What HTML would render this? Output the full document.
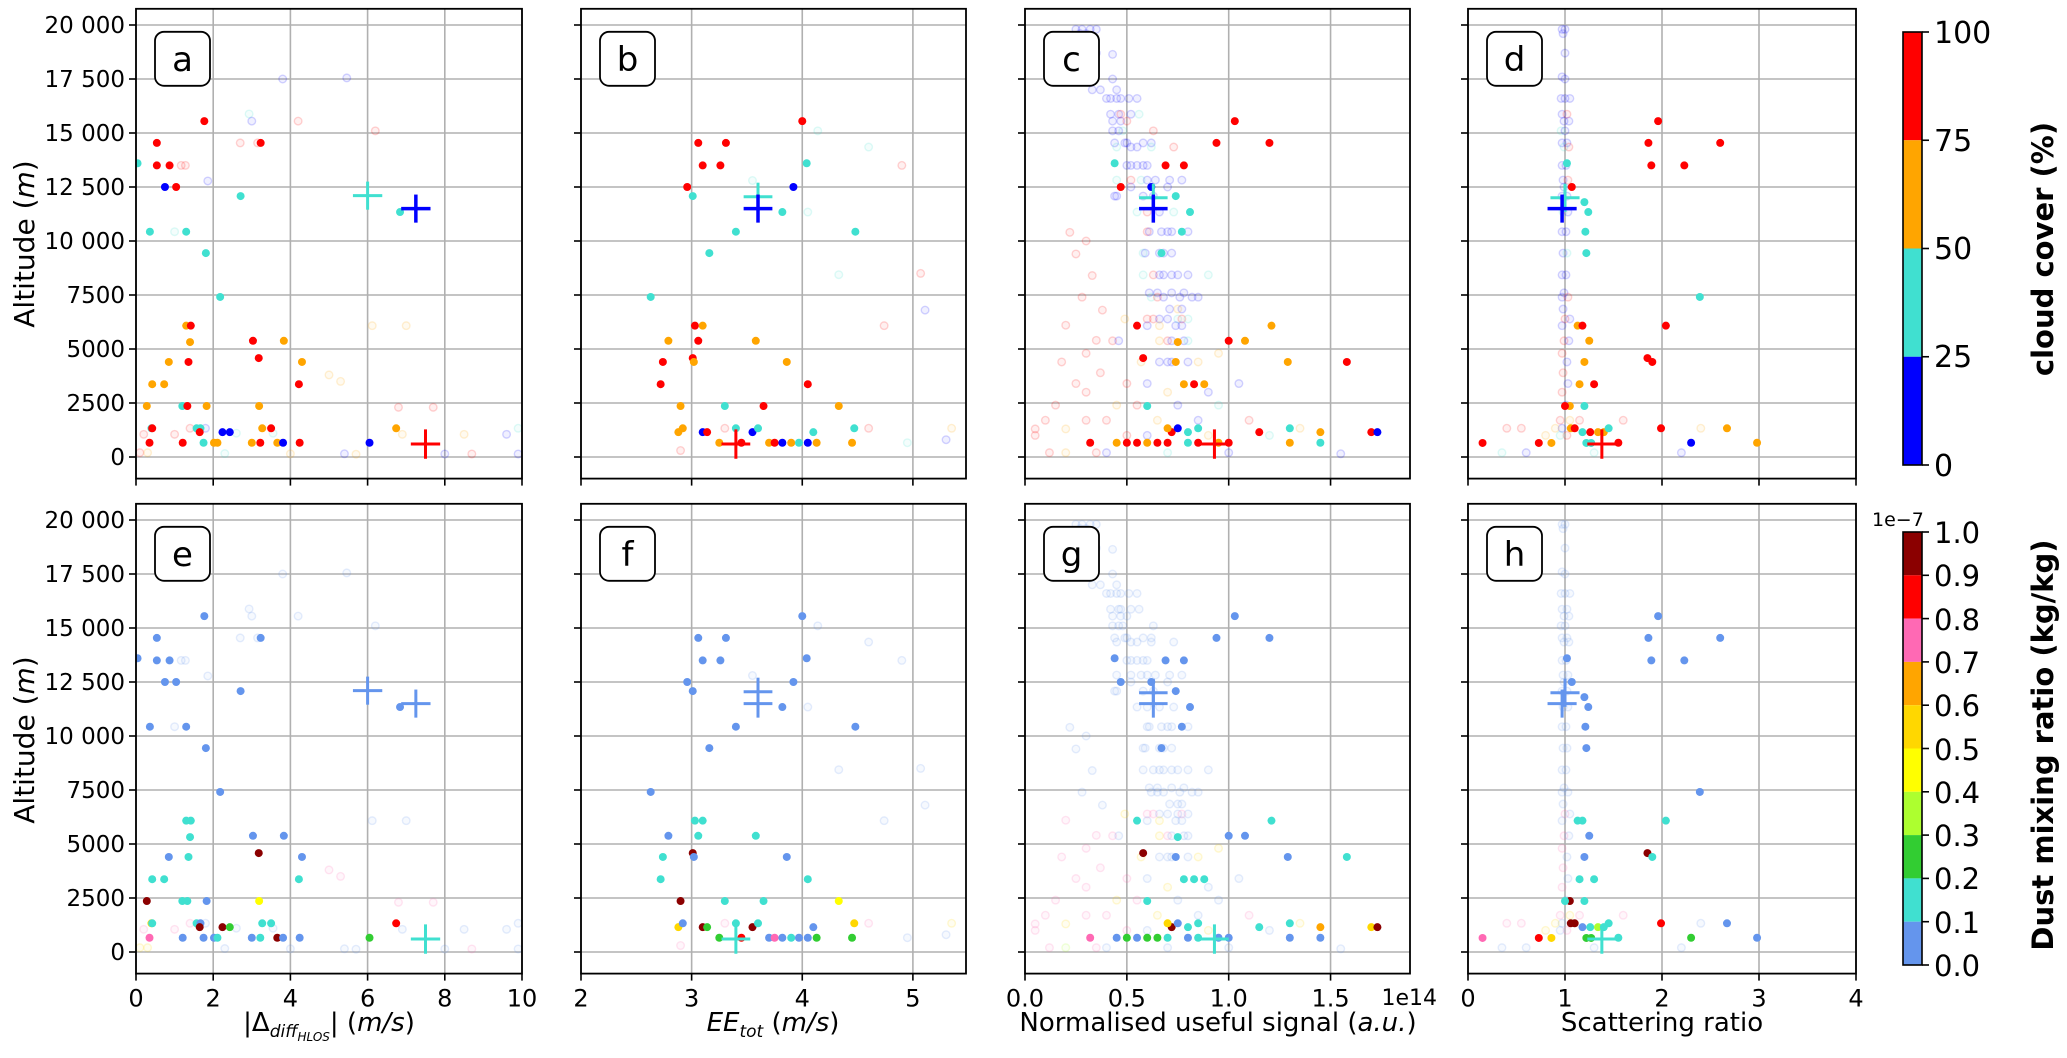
<!DOCTYPE html>
<html><head><meta charset="utf-8"><style>
html,body{margin:0;padding:0;background:#fff;}
svg text{font-family:"DejaVu Sans","Liberation Sans",sans-serif;}
</style></head>
<body>
<svg id="fig" xmlns="http://www.w3.org/2000/svg" width="2067" height="1053" viewBox="0 0 2067 1053"></svg>
<script>
// ---- data ----
const ccColors = ['#0000ff','#40e0d0','#ffa500','#ff0000'];
const dustColors = ['#6495ed','#40e0d0','#32cd32','#adff2f','#ffff00','#ffd700','#ffa500','#ff69b4','#ff0000','#8b0000'];
const yTicks = [0,2500,5000,7500,10000,12500,15000,17500,20000];
const yTickLabels = ['0','2500','5000','7500','10 000','12 500','15 000','17 500','20 000'];
const xTicksA = [0,2,4,6,8,10];
const xTicksB = [2,3,4,5];
const xTicksC = [0,0.5,1.0,1.5];
const xTickLabelsC = ['0.0','0.5','1.0','1.5'];
const xTicksD = [0,1,2,3,4];
const ccTicks = [0,25,50,75,100];
const dustTicks = ['0.0','0.1','0.2','0.3','0.4','0.5','0.6','0.7','0.8','0.9','1.0'];
// points: [x, altitude, cloud class, dust class]
const pointsA = [[1.77,15550,3,0],[0.54,14540,3,0],[3.23,14540,3,0],[0.54,13500,3,0],[0.87,13500,3,0],[0.04,13600,1,0],[0.75,12500,0,0],[1.04,12500,3,0],[2.71,12080,1,0],[6.84,11340,1,0],[0.36,10430,1,0],[1.30,10430,1,0],[1.81,9440,1,0],[2.18,7410,1,0],[1.30,6080,2,1],[1.42,6080,3,1],[1.40,5320,2,1],[3.03,5380,3,0],[3.83,5380,2,0],[0.85,4400,2,0],[1.36,4400,3,1],[3.18,4580,3,9],[4.30,4400,2,0],[0.42,3370,2,1],[0.73,3370,2,1],[4.22,3370,3,1],[0.28,2360,2,9],[1.20,2360,1,1],[1.33,2360,3,1],[1.83,2360,2,0],[3.19,2360,2,4],[0.40,1330,1,5],[0.42,1330,3,1],[1.57,1330,1,1],[1.67,1330,1,0],[1.65,1150,3,9],[2.24,1150,0,9],[2.43,1150,0,2],[3.27,1330,2,1],[3.50,1330,3,1],[6.74,1330,2,8],[0.35,660,3,7],[1.21,660,3,0],[1.75,660,1,0],[2.02,660,2,0],[2.11,660,2,1],[3.00,660,2,0],[3.22,660,3,1],[3.66,660,2,9],[3.81,660,0,0],[4.24,660,3,0],[6.05,660,0,2]];
const fadedA = [[3.80,17500,0,0],[5.46,17550,0,0],[2.93,15880,1,0],[3.00,15550,0,0],[4.20,15550,3,0],[6.20,15100,3,0],[2.70,14540,3,0],[3.15,14540,3,0],[1.17,13500,3,0],[1.28,13500,3,0],[1.86,12780,0,0],[1.00,10430,1,0],[6.12,6080,2,0],[7.00,6080,2,0],[5.00,3800,2,7],[5.30,3500,2,7],[6.80,2300,3,7],[7.70,2300,3,7],[0.20,1050,3,7],[1.00,1050,3,7],[1.40,1330,3,7],[1.80,1330,0,0],[2.60,1100,1,0],[3.55,1100,1,0],[6.90,1050,2,0],[8.50,1050,2,0],[9.60,1050,0,0],[9.90,1330,1,0],[5.40,150,0,0],[5.70,130,2,0],[8.70,140,3,7],[9.90,140,0,0],[8.00,140,0,0],[0.10,200,3,5],[0.30,200,2,5],[2.30,160,1,0],[4.00,150,2,0]];
const pointsB = [[3.06,14540,3,0],[3.31,14540,3,0],[3.10,13500,3,0],[3.26,13500,3,0],[2.96,12500,3,0],[3.01,12080,1,0],[3.40,10430,1,0],[3.16,9440,1,0],[2.63,7410,1,0],[3.03,6080,3,1],[3.10,6080,2,1],[2.79,5380,2,0],[3.06,5380,3,1],[2.74,4400,3,1],[3.01,4580,3,9],[3.02,4400,2,0],[4.00,15550,3,0],[4.04,13600,1,0],[3.92,12500,0,0],[3.82,11340,1,0],[4.48,10430,1,0],[3.58,5380,2,1],[3.86,4400,2,0],[4.05,3370,3,1],[2.72,3370,3,1],[2.90,2360,2,9],[3.30,2360,1,1],[3.65,2360,3,1],[4.33,2360,2,4],[4.47,1330,1,5],[2.88,1150,2,5],[2.92,1330,2,0],[3.10,1150,0,9],[3.14,1150,3,2],[3.40,1330,1,1],[3.55,1150,0,9],[3.60,1330,1,1],[3.70,660,2,0],[3.75,660,3,7],[3.82,660,0,0],[3.90,660,2,1],[3.97,660,1,0],[4.05,660,0,0],[4.10,1150,1,0],[4.13,660,2,2],[4.45,660,2,2],[3.25,660,2,2],[3.45,660,3,8]];
const fadedB = [[4.14,15100,1,0],[4.60,14350,1,0],[4.90,13500,3,0],[4.05,11340,1,0],[4.33,8440,1,0],[5.07,8500,3,0],[5.11,6800,0,0],[4.74,6080,3,0],[5.35,1330,2,5],[5.30,800,0,0],[2.90,300,3,7],[3.55,12800,1,0],[4.60,1330,3,7],[3.30,1330,3,7],[4.95,660,1,0]];
const pointsC = [[1.03,15550,3,0],[0.94,14540,3,0],[1.20,14540,3,0],[0.69,13500,3,0],[0.78,13500,3,0],[0.44,13600,1,0],[0.47,12500,3,0],[0.62,12500,0,0],[0.74,12080,1,0],[0.81,11340,1,0],[0.77,10430,1,0],[0.67,9440,1,0],[0.55,6080,3,1],[1.21,6080,2,1],[1.00,5380,3,0],[1.08,5380,2,0],[0.75,5320,2,1],[0.58,4580,3,9],[0.74,4400,2,0],[1.29,4400,2,0],[1.58,4400,3,1],[0.78,3370,2,1],[0.83,3370,3,1],[0.88,3370,2,1],[0.60,2360,1,1],[0.72,1150,3,9],[0.75,1330,0,0],[0.80,1150,1,1],[0.85,1330,1,1],[0.70,1330,2,5],[1.15,1150,3,1],[1.30,1330,1,1],[1.45,1150,2,6],[1.70,1150,3,5],[1.73,1150,0,9],[0.32,660,3,7],[0.45,660,2,0],[0.50,660,3,2],[0.55,660,3,0],[0.60,660,2,2],[0.65,660,3,2],[0.70,660,3,1],[0.80,660,1,0],[0.85,660,3,1],[0.95,660,2,0],[1.00,660,3,0],[1.30,660,2,0],[1.45,660,1,0]];
const fadedC = [[0.25,19800,0,0],[0.28,19800,0,0],[0.32,19800,0,0],[0.35,19800,0,0],[0.27,19600,0,0],[0.30,19600,0,0],[0.30,18700,0,0],[0.35,18700,0,0],[0.43,18640,0,0],[0.33,17600,0,0],[0.43,17500,0,0],[0.33,17000,0,0],[0.37,17000,0,0],[0.45,17000,0,0],[0.40,16600,0,0],[0.42,16600,0,0],[0.45,16600,0,0],[0.47,16600,0,0],[0.51,16600,0,0],[0.55,16600,0,0],[0.42,15870,0,0],[0.46,15870,0,0],[0.52,15870,0,0],[0.56,15870,1,0],[0.47,15870,3,0],[0.43,15550,0,0],[0.47,15550,0,0],[0.50,15550,3,0],[0.43,15100,0,0],[0.46,15100,0,0],[0.48,15100,1,0],[0.63,15100,3,0],[0.44,14540,0,0],[0.49,14540,0,0],[0.50,14540,0,0],[0.58,14540,0,0],[0.62,14540,0,0],[0.45,14350,1,0],[0.52,14350,0,0],[0.55,14350,0,0],[0.62,14350,1,0],[0.73,14350,3,0],[0.50,13500,0,0],[0.52,13500,0,0],[0.55,13500,0,0],[0.58,13500,0,0],[0.60,13500,0,0],[0.45,12820,1,0],[0.52,12820,3,0],[0.57,12820,1,0],[0.60,12820,0,0],[0.64,12820,0,0],[0.71,12820,0,0],[0.77,12820,0,0],[0.52,12500,0,0],[0.70,12500,0,0],[0.44,12080,0,0],[0.45,12080,0,0],[0.58,12080,0,0],[0.63,12080,0,0],[0.55,11340,1,0],[0.60,11340,3,0],[0.66,11340,0,0],[0.73,11340,1,0],[0.60,10430,3,0],[0.61,10430,0,0],[0.67,10430,0,0],[0.70,10430,0,0],[0.72,10430,0,0],[0.80,10430,0,0],[0.58,9440,1,0],[0.59,9440,0,0],[0.66,9440,0,0],[0.68,9440,0,0],[0.72,9440,0,0],[0.58,8430,1,0],[0.63,8430,3,0],[0.66,8430,0,0],[0.68,8430,0,0],[0.72,8430,0,0],[0.75,8430,0,0],[0.80,8430,0,0],[0.90,8430,1,0],[0.61,7600,0,0],[0.65,7600,0,0],[0.72,7600,0,0],[0.78,7600,0,0],[0.62,7400,1,0],[0.65,7400,3,0],[0.68,7400,0,0],[0.76,7400,0,0],[0.82,7400,0,0],[0.85,7400,0,0],[0.71,6850,0,0],[0.75,6850,2,0],[0.77,6850,0,0],[0.49,6390,2,5],[0.60,6390,3,7],[0.63,6390,3,7],[0.66,6390,0,0],[0.70,6390,0,0],[0.75,6390,1,0],[0.77,6390,3,7],[0.80,6390,1,0],[0.60,6080,0,0],[0.66,6080,2,5],[0.74,6080,0,0],[0.77,6080,0,0],[0.43,5380,3,7],[0.46,5380,0,0],[0.66,5380,2,5],[0.70,5380,3,7],[0.72,5380,0,0],[0.78,5380,0,0],[0.80,5380,1,0],[0.57,4400,2,5],[0.66,4400,0,0],[0.70,4400,0,0],[0.72,4400,0,0],[0.80,4400,0,0],[0.85,4400,2,5],[0.22,10400,3,0],[0.30,10000,3,0],[0.25,9400,3,0],[0.33,8400,3,0],[0.28,7400,3,0],[0.38,6800,3,0],[0.20,6100,3,7],[0.35,5400,3,7],[0.30,4800,3,7],[0.18,4400,3,7],[0.37,3900,3,7],[0.25,3400,3,7],[0.30,3000,3,7],[0.15,2400,3,7],[0.10,1700,3,7],[0.30,1700,3,7],[0.20,1300,2,5],[0.05,1000,3,7],[0.12,200,3,7],[0.20,200,2,3],[0.35,200,3,7],[0.05,1300,3,7],[0.50,3400,3,7],[0.60,3400,0,0],[0.70,3000,2,5],[0.90,3000,0,0],[0.45,2400,2,5],[0.55,2400,3,7],[0.75,2400,0,0],[0.95,2400,1,0],[0.40,1700,3,7],[0.65,1700,2,5],[0.85,1700,0,0],[1.10,1700,3,7],[0.50,1000,3,7],[0.60,1000,0,0],[0.90,1000,2,5],[1.20,1000,1,0],[0.40,200,0,0],[0.70,200,1,0],[1.00,200,0,0],[1.55,150,0,0],[1.35,1330,2,5],[0.95,4800,2,5],[1.05,3400,0,0]];
const pointsD = [[1.96,15550,3,0],[1.86,14540,3,0],[2.60,14540,3,0],[1.89,13500,3,0],[2.23,13500,3,0],[1.02,13600,1,0],[1.07,12500,3,0],[1.20,11800,1,0],[1.24,11340,1,0],[1.21,10430,1,0],[1.22,9440,1,0],[2.39,7410,1,0],[1.13,6080,2,1],[1.18,6080,3,1],[2.04,6080,3,1],[1.25,5380,2,0],[1.85,4580,3,9],[1.90,4400,3,1],[1.20,4400,2,0],[1.15,3370,2,1],[1.30,3370,3,1],[1.05,2360,2,9],[1.20,2360,1,1],[1.00,2360,3,1],[0.15,650,3,7],[0.73,650,3,8],[0.86,650,2,5],[1.22,650,1,2],[1.27,650,1,2],[1.18,1150,1,0],[1.26,1150,3,1],[1.34,1150,2,3],[1.06,1330,2,9],[1.10,1330,3,9],[1.40,1150,2,1],[1.99,1330,3,8],[2.30,660,0,2],[2.67,1330,2,0],[2.98,660,2,0],[1.55,660,3,1],[1.45,1330,1,1]];
const fadedD = [[0.97,19800,0,0],[1.00,19800,0,0],[0.98,19600,0,0],[1.00,18700,0,0],[0.97,17600,0,0],[1.00,17500,0,0],[0.96,16600,0,0],[1.00,16600,0,0],[1.05,16600,0,0],[0.97,15870,0,0],[1.02,15870,3,0],[0.99,15550,0,0],[1.04,15550,0,0],[0.96,15100,1,0],[1.00,15100,0,0],[0.97,14540,0,0],[1.02,14540,0,0],[0.99,14350,1,0],[1.04,14350,3,0],[0.97,13500,0,0],[1.01,13500,0,0],[0.98,12820,0,0],[1.03,12820,3,0],[0.99,12500,0,0],[0.97,12080,0,0],[1.02,12080,0,0],[0.98,11340,1,0],[1.03,11340,0,0],[0.97,10430,0,0],[1.01,10430,0,0],[0.98,9440,0,0],[1.02,9440,1,0],[0.97,8430,0,0],[1.01,8430,0,0],[0.99,7600,0,0],[0.97,7400,0,0],[1.03,7400,3,0],[0.98,6850,0,0],[1.00,6390,3,7],[1.05,6390,0,0],[0.97,6080,0,0],[0.99,5380,3,7],[1.04,5380,0,0],[0.97,4800,3,7],[1.02,4400,0,0],[0.98,3900,3,7],[1.03,3400,0,0],[0.97,3000,3,7],[1.01,2400,0,0],[0.95,1700,3,7],[1.05,1700,2,5],[0.97,1330,0,0],[1.02,1000,3,7],[0.40,1330,3,7],[0.55,1330,3,7],[0.60,200,0,0],[0.35,200,1,0],[0.90,1330,2,5],[1.60,1700,3,7],[0.80,1000,2,5],[1.30,200,1,0],[2.20,200,0,0],[2.40,1330,2,0],[0.95,1000,1,0],[1.15,1700,3,7]];
// crosses: [x, altitude, xerr, yerr, colour index]
const crossTopA = [[6.0,12100,0.38,650,1],[7.25,11500,0.38,650,0],[7.5,600,0.38,680,3]];
const crossTopB = [[3.6,12050,0.13,650,1],[3.6,11500,0.13,650,0],[3.4,600,0.13,680,3]];
const crossTopC = [[0.63,12000,0.07,650,1],[0.63,11500,0.07,650,0],[0.93,600,0.07,680,3]];
const crossTopD = [[1.0,12000,0.15,650,1],[0.97,11500,0.15,650,0],[1.38,600,0.15,680,3]];
const crossBotA = [[6.0,12100,0.38,650,0],[7.25,11500,0.38,650,0],[7.5,600,0.38,680,1]];
const crossBotB = [[3.6,12050,0.13,650,0],[3.6,11500,0.13,650,0],[3.4,600,0.13,680,1]];
const crossBotC = [[0.63,12000,0.07,650,0],[0.63,11500,0.07,650,0],[0.93,600,0.07,680,1]];
const crossBotD = [[1.0,12000,0.15,650,0],[0.97,11500,0.15,650,0],[1.38,600,0.15,680,1]];

// ---- layout ----
const svg = document.getElementById('fig');
const NS = 'http://www.w3.org/2000/svg';
function mk(tag, attrs, parent){const e=document.createElementNS(NS,tag);for(const k in attrs)e.setAttribute(k,attrs[k]);(parent||svg).appendChild(e);return e;}
const colX = [[136,522],[581,966],[1025,1410],[1468,1856]];
const xLims = [[0,10],[2,5.48],[0,1.89],[0,4]];
const rowZero = [457,952];
const YS = 0.0216;
const rowTop = r => rowZero[r]-20750*YS;
const rowBot = r => rowZero[r]+1000*YS;
const panelData = [[pointsA,fadedA],[pointsB,fadedB],[pointsC,fadedC],[pointsD,fadedD]];
const crossTop = [crossTopA,crossTopB,crossTopC,crossTopD];
const crossBot = [crossBotA,crossBotB,crossBotC,crossBotD];
const xTickSets = [xTicksA,xTicksB,xTicksC,xTicksD];
const xTickLabelSets = [xTicksA.map(String),xTicksB.map(String),xTickLabelsC,xTicksD.map(String)];
const letters = [['a','b','c','d'],['e','f','g','h']];

for(let r=0;r<2;r++){
  for(let c=0;c<4;c++){
    const [x0,x1]=colX[c], [l0,l1]=xLims[c];
    const sx = v => x0+(v-l0)/(l1-l0)*(x1-x0);
    const sy = a => rowZero[r]-a*YS;
    const g = mk('g',{});
    
    
    xTickSets[c].forEach((t,i)=>{
      const gl=mk('line',{x1:sx(t),x2:sx(t),y1:rowTop(r),y2:rowBot(r),stroke:'#b0b0b0','stroke-width':1.6},g);
      
      
      const tk=mk('line',{x1:sx(t),x2:sx(t),y1:rowBot(r),y2:rowBot(r)+7,stroke:'#000','stroke-width':1.6},g);
      
      
      if(r===1){
        const tl=mk('text',{x:sx(t),y:rowBot(r)+33,'text-anchor':'middle','font-size':24},g);
        tl.textContent=xTickLabelSets[c][i];
        
        
      }
    });
    yTicks.forEach((t,i)=>{
      const gl=mk('line',{x1:x0,x2:x1,y1:sy(t),y2:sy(t),stroke:'#b0b0b0','stroke-width':1.6},g);
      
      
      const tk=mk('line',{x1:x0-7,x2:x0,y1:sy(t),y2:sy(t),stroke:'#000','stroke-width':1.6},g);
      
      
      if(c===0){
        const tl=mk('text',{x:x0-11,y:sy(t)+8,'text-anchor':'end','font-size':23},g);
        tl.textContent=yTickLabels[i];
        
        
      }
    });
    const clip = mk('clipPath',{id:'clip'+r+c},g);
    mk('rect',{x:x0,y:rowTop(r),width:x1-x0,height:rowBot(r)-rowTop(r)},clip);
    const pg = mk('g',{'clip-path':'url(#clip'+r+c+')'},g);
    panelData[c][1].forEach(p=>{
      const col = r===0?ccColors[p[2]]:dustColors[p[3]];
      const e=mk('circle',{cx:sx(p[0]),cy:sy(p[1]),r:3.8,fill:col,'fill-opacity':0.06,stroke:col,'stroke-opacity':0.17,'stroke-width':1.4},pg);
      
      
    });
    panelData[c][0].forEach(p=>{
      const col = r===0?ccColors[p[2]]:dustColors[p[3]];
      const e=mk('circle',{cx:sx(p[0]),cy:sy(p[1]),r:4,fill:col},pg);
      
      
    });
    (r===0?crossTop[c]:crossBot[c]).forEach(m=>{
      const col = r===0?ccColors[m[4]]:dustColors[m[4]];
      const w = (r===0&&m[4]===0)?3.5:3;
      const h=mk('line',{x1:sx(m[0]-m[2]),x2:sx(m[0]+m[2]),y1:sy(m[1]),y2:sy(m[1]),stroke:col,'stroke-width':w},pg);
      
      
      const v=mk('line',{x1:sx(m[0]),x2:sx(m[0]),y1:sy(m[1]-m[3]),y2:sy(m[1]+m[3]),stroke:col,'stroke-width':w},pg);
      
      
    });
    const fr=mk('rect',{x:x0,y:rowTop(r),width:x1-x0,height:rowBot(r)-rowTop(r),fill:'none',stroke:'#000','stroke-width':1.8},g);
    
    
    const bx=x0+19, by=rowTop(r)+23;
    const lb=mk('rect',{x:bx,y:by,width:55,height:54,rx:9,fill:'#fff',stroke:'#000','stroke-width':1.8},g);
    
    
    const lt=mk('text',{x:bx+27.5,y:by+39,'text-anchor':'middle','font-size':34},g);
    lt.textContent=letters[r][c];
    
    
  }
}
</script>
<svg style="position:absolute;left:0;top:0" width="2067" height="1053">
  <g font-family="DejaVu Sans, Liberation Sans, sans-serif">
    <text transform="translate(34,244) rotate(-90)" text-anchor="middle" font-size="28">Altitude (<tspan font-style="italic">m</tspan>)</text>
    <text transform="translate(34,740) rotate(-90)" text-anchor="middle" font-size="28">Altitude (<tspan font-style="italic">m</tspan>)</text>
    <text x="329" y="1031" text-anchor="middle" font-size="26">|Δ<tspan font-style="italic" font-size="17" dy="6">diff</tspan><tspan font-style="italic" font-size="12" dy="4">HLOS</tspan><tspan dy="-10">| (</tspan><tspan font-style="italic">m/s</tspan>)</text>
    <text x="773" y="1031" text-anchor="middle" font-size="26"><tspan font-style="italic">EE</tspan><tspan font-style="italic" font-size="17" dy="6">tot</tspan><tspan dy="-6"> (</tspan><tspan font-style="italic">m/s</tspan>)</text>
    <text x="1218" y="1031" text-anchor="middle" font-size="26">Normalised useful signal (<tspan font-style="italic">a.u.</tspan>)</text>
    <text x="1437" y="1005" text-anchor="end" font-size="22">1e14</text>
    <text x="1662" y="1031" text-anchor="middle" font-size="26">Scattering ratio</text>
    <g>
      <rect x="1903" y="32" width="19" height="108.25" fill="#ff0000"/>
      <rect x="1903" y="140.25" width="19" height="108.25" fill="#ffa500"/>
      <rect x="1903" y="248.5" width="19" height="108.25" fill="#40e0d0"/>
      <rect x="1903" y="356.75" width="19" height="108.25" fill="#0000ff"/>
      <rect x="1903" y="32" width="19" height="433" fill="none" stroke="#000" stroke-width="1.6"/>
      <g stroke="#000" stroke-width="1.6"><line x1="1922" x2="1929" y1="465" y2="465"/><line x1="1922" x2="1929" y1="356.75" y2="356.75"/><line x1="1922" x2="1929" y1="248.5" y2="248.5"/><line x1="1922" x2="1929" y1="140.25" y2="140.25"/><line x1="1922" x2="1929" y1="32" y2="32"/></g>
      <g font-size="30"><text x="1934" y="476">0</text><text x="1934" y="367">25</text><text x="1934" y="259">50</text><text x="1934" y="151">75</text><text x="1934" y="43">100</text></g>
    </g>
    <text transform="translate(2053,249) rotate(-90)" text-anchor="middle" font-size="29" font-weight="bold">cloud cover (%)</text>
    <g>
      <rect x="1903" y="532" width="19" height="43.3" fill="#8b0000"/>
      <rect x="1903" y="575.3" width="19" height="43.3" fill="#ff0000"/>
      <rect x="1903" y="618.6" width="19" height="43.3" fill="#ff69b4"/>
      <rect x="1903" y="661.9" width="19" height="43.3" fill="#ffa500"/>
      <rect x="1903" y="705.2" width="19" height="43.3" fill="#ffd700"/>
      <rect x="1903" y="748.5" width="19" height="43.3" fill="#ffff00"/>
      <rect x="1903" y="791.8" width="19" height="43.3" fill="#adff2f"/>
      <rect x="1903" y="835.1" width="19" height="43.3" fill="#32cd32"/>
      <rect x="1903" y="878.4" width="19" height="43.3" fill="#40e0d0"/>
      <rect x="1903" y="921.7" width="19" height="43.3" fill="#6495ed"/>
      <rect x="1903" y="532" width="19" height="433" fill="none" stroke="#000" stroke-width="1.6"/>
      <g stroke="#000" stroke-width="1.6">
        <line x1="1922" x2="1929" y1="532" y2="532"/><line x1="1922" x2="1929" y1="575.3" y2="575.3"/><line x1="1922" x2="1929" y1="618.6" y2="618.6"/><line x1="1922" x2="1929" y1="661.9" y2="661.9"/><line x1="1922" x2="1929" y1="705.2" y2="705.2"/><line x1="1922" x2="1929" y1="748.5" y2="748.5"/><line x1="1922" x2="1929" y1="791.8" y2="791.8"/><line x1="1922" x2="1929" y1="835.1" y2="835.1"/><line x1="1922" x2="1929" y1="878.4" y2="878.4"/><line x1="1922" x2="1929" y1="921.7" y2="921.7"/><line x1="1922" x2="1929" y1="965" y2="965"/>
      </g>
      <g font-size="29">
        <text x="1934" y="543">1.0</text><text x="1934" y="586">0.9</text><text x="1934" y="630">0.8</text><text x="1934" y="673">0.7</text><text x="1934" y="716">0.6</text><text x="1934" y="760">0.5</text><text x="1934" y="803">0.4</text><text x="1934" y="846">0.3</text><text x="1934" y="889">0.2</text><text x="1934" y="933">0.1</text><text x="1934" y="976">0.0</text>
      </g>
      <text x="1872" y="526" font-size="19">1e−7</text>
    </g>
    <text transform="translate(2053,745) rotate(-90)" text-anchor="middle" font-size="29" font-weight="bold">Dust mixing ratio (kg/kg)</text>
  </g>
</svg>
</body></html>
